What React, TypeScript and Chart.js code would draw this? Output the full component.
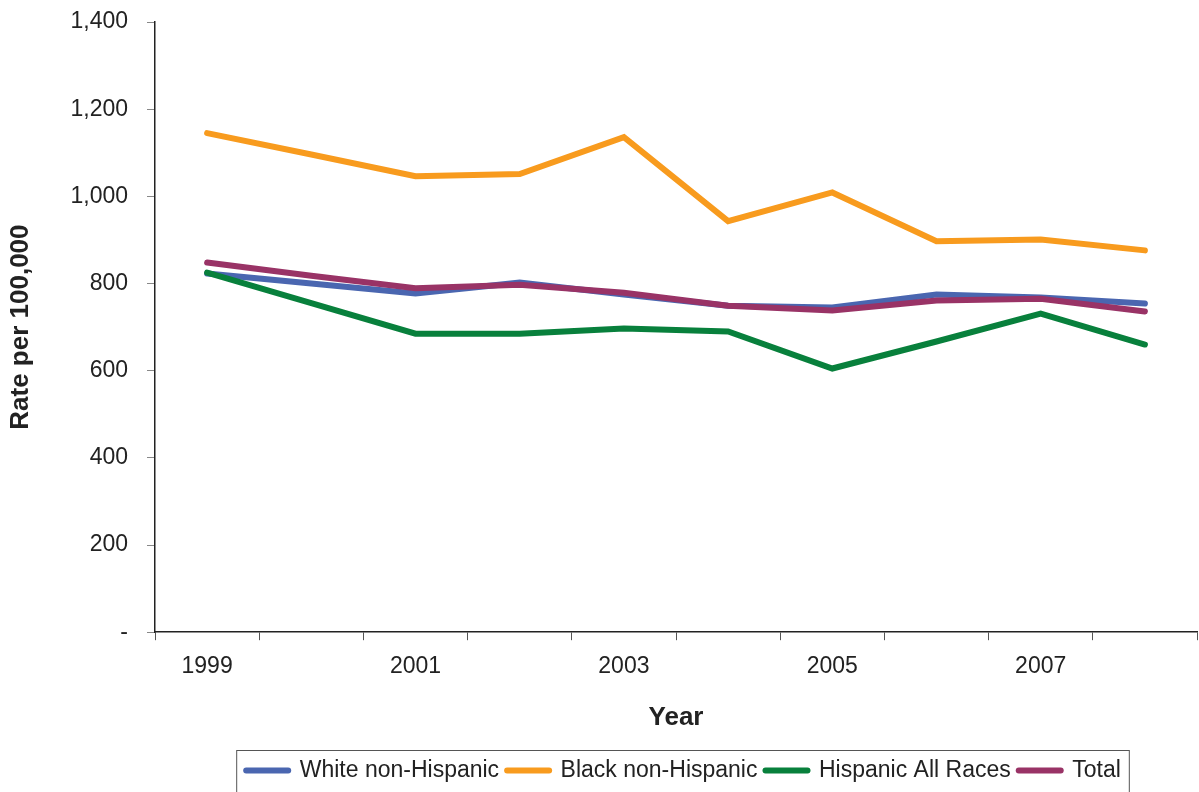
import { useEffect, useRef } from "react";
import { Chart, registerables } from "chart.js";

Chart.register(...registerables);

const years = ["1999", "2000", "2001", "2002", "2003", "2004", "2005", "2006", "2007", "2008"];
const white = [823, 800, 777, 802, 775, 749, 745, 775, 768, 754];
const black = [1145, 1096, 1046, 1051, 1136, 943, 1009, 897, 901, 876];
const hispanic = [825, 755, 685, 685, 697, 690, 605, 667, 731, 660];
const total = [848, 818, 789, 797, 779, 749, 738, 761, 765, 736];
const yTicks = [0, 200, 400, 600, 800, 1000, 1200, 1400];

const sans = "'Liberation Sans', Arial, sans-serif";

// shifts the legend under the plot area and draws the frame round it
const legendBox = {
  id: "legendBox",
  afterLayout(chart: any) {
    const lg = chart.legend;
    if (!lg) return;
    lg.left += 85;
    lg.right += 85;
  },
  afterDraw(chart: any) {
    const boxes = chart.legend?.legendHitBoxes;
    if (!boxes || !boxes.length) return;
    const first = boxes[0];
    const last = boxes[boxes.length - 1];
    const ctx = chart.ctx;
    ctx.save();
    ctx.strokeStyle = "#555";
    ctx.lineWidth = 1;
    const left = first.left - 10;
    const right = last.left + last.width + 8;
    const top = first.top - 9;
    ctx.strokeRect(left + 0.5, top + 0.5, right - left, 80);
    ctx.restore();
  },
};

export default function App() {
  const ref = useRef<HTMLCanvasElement>(null);
  useEffect(() => {
    const line = (label: string, data: number[], color: string, order: number) => ({
      label,
      data,
      borderColor: color,
      backgroundColor: color,
      borderWidth: 6,
      borderCapStyle: "round" as const,
      borderJoinStyle: "miter" as const,
      pointRadius: 0,
      tension: 0,
      order,
    });
    const chart = new Chart(ref.current!, {
      type: "line",
      data: {
        labels: years,
        datasets: [
          line("White non-Hispanic", white, "#4a66b0", 3),
          line("Black non-Hispanic", black, "#f89b1e", 2),
          line("Hispanic All Races", hispanic, "#08803c", 1),
          line("Total", total, "#993366", 0),
        ],
      },
      options: {
        animation: false,
        responsive: true,
        maintainAspectRatio: false,
        layout: { padding: { top: 22, right: 2, left: 0, bottom: 0 } },
        plugins: {
          tooltip: { enabled: false },
          legend: {
            position: "bottom",
            labels: {
              usePointStyle: true,
              pointStyle: "line",
              pointStyleWidth: 42,
              color: "#222",
              padding: 8,
              font: { family: sans, size: 23 },
              generateLabels: (c: any) =>
                Chart.defaults.plugins.legend.labels
                  .generateLabels(c)
                  .map((item: any) => ({ ...item, lineCap: "round", lineWidth: 6 })),
              sort: (a: any, b: any) => a.datasetIndex - b.datasetIndex,
            },
          },
        },
        scales: {
          x: {
            offset: true,
            grid: { offset: true, drawOnChartArea: false, tickLength: 8, color: "#555" },
            border: { color: "#222", width: 1.5 },
            ticks: {
              autoSkip: false,
              maxRotation: 0,
              padding: 13,
              color: "#222",
              font: { family: sans, size: 23 },
              callback: function (this: any, value: any, index: number) {
                return index % 2 === 0 ? this.getLabelForValue(value) : "";
              },
            },
            title: {
              display: true,
              text: "Year",
              color: "#222",
              font: { family: sans, size: 26, weight: "bold" },
              padding: { top: 8, bottom: 18 },
            },
          },
          y: {
            min: 0,
            max: 1400,
            afterFit: (scale: any) => {
              scale.width = 155;
              scale.paddingTop = 0;
            },
            afterBuildTicks: (scale: any) => {
              scale.ticks = yTicks.map((v) => ({ value: v }));
            },
            grid: { drawOnChartArea: false, tickLength: 8, color: "#888" },
            border: { color: "#222", width: 1.5 },
            ticks: {
              padding: 19,
              color: "#222",
              font: { family: sans, size: 23 },
              callback: (v: any) => (v === 0 ? "-" : Number(v).toLocaleString("en-US")),
            },
            title: {
              display: true,
              text: "Rate per 100,000",
              color: "#222",
              font: { family: sans, size: 26, weight: "bold" },
              padding: { top: 5, bottom: 0 },
            },
          },
        },
      },
      plugins: [legendBox],
    });
    return () => chart.destroy();
  }, []);
  return (
    <div style={{ position: "fixed", left: 0, top: 0, width: 1199, height: 792, background: "#fff" }}>
      <canvas ref={ref} />
    </div>
  );
}
